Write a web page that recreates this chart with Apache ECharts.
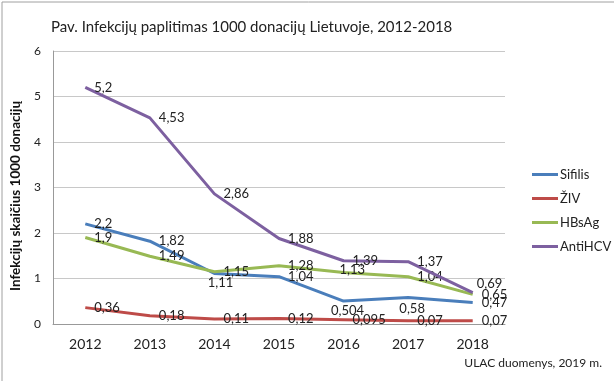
<!DOCTYPE html>
<html>
<head>
<meta charset="utf-8">
<script src="https://cdn.jsdelivr.net/npm/echarts@6/dist/echarts.min.js"></script>
<style>html,body{margin:0;padding:0;background:#fff}#c{width:614px;height:381px}</style>
</head>
<body>
<div id="c"></div>
<script>
const categories = ['2012','2013','2014','2015','2016','2017','2018'];
const sifilis = [2.2, 1.82, 1.11, 1.04, 0.504, 0.58, 0.47];
const ziv = [0.36, 0.18, 0.11, 0.12, 0.095, 0.07, 0.07];
const hbsag = [1.9, 1.49, 1.15, 1.28, 1.13, 1.04, 0.65];
const antihcv = [5.2, 4.53, 2.86, 1.88, 1.39, 1.37, 0.69];
const yTicks = [0, 1, 2, 3, 4, 5, 6];

const FONT = 'Lato';
const fmt = v => String(v).replace('.', ',');

// label placement overrides (series index -> point index -> label opts)
const labelOverrides = {
  0: { 2: { position: 'bottom', offset: [6, -6] }, 4: { position: 'bottom', offset: [4, -6] }, 5: { position: 'bottom', offset: [4, -4] } },
  2: { 4: { offset: [-13, -3] } },
  3: { 6: { offset: [-5, -9] } }
};

function mkSeries(name, vals, color, idx) {
  return {
    name, type: 'line', data: vals.map((v, i) => {
      const o = labelOverrides[idx] && labelOverrides[idx][i];
      return o ? { value: v, label: o } : v;
    }),
    symbol: 'circle', symbolSize: 0, showSymbol: true, smooth: false,
    lineStyle: { color, width: 3 },
    itemStyle: { color },
    label: { show: true, position: 'right', distance: 9, formatter: p => fmt(p.value), color: '#222', fontFamily: FONT, fontSize: 13 },
    z: 2 + idx
  };
}

const chart = echarts.init(document.getElementById('c'));
chart.setOption({
  animation: false,
  textStyle: { fontFamily: FONT },
  title: { text: 'Pav. Infekcijų paplitimas 1000 donacijų Lietuvoje, 2012-2018', left: 46, top: 15,
    textStyle: { fontFamily: FONT, fontWeight: 'normal', fontSize: 15, color: '#222' } },
  grid: { left: 53, right: 109, top: 51, bottom: 57, containLabel: false },
  legend: {
    orient: 'vertical', left: 527, top: 163, itemGap: 11, itemWidth: 26, itemHeight: 14,
    icon: 'path://M0,6 L26,6 L26,9 L0,9 Z',
    textStyle: { fontFamily: FONT, fontSize: 13, color: '#222', padding: [0,0,0,-3] },
    data: ['Sifilis', 'ŽIV', 'HBsAg', 'AntiHCV']
  },
  xAxis: {
    type: 'category', data: categories, boundaryGap: true,
    axisLine: { lineStyle: { color: '#999' } }, axisTick: { show: false },
    axisLabel: { fontFamily: FONT, fontSize: 14, color: '#222', margin: 13 }
  },
  yAxis: {
    type: 'value', min: yTicks[0], max: yTicks[yTicks.length - 1], interval: 1,
    axisLine: { show: true, lineStyle: { color: '#999' } }, axisTick: { show: false },
    splitLine: { lineStyle: { color: '#c8c8c8' } },
    axisLabel: { fontFamily: FONT, fontSize: 12, color: '#222', margin: 12 }
  },
  graphic: [
    { type: 'rect', shape: { x: 2, y: 2, width: 700, height: 500 }, style: { fill: 'none', stroke: '#a0a0a0', lineWidth: 1 }, silent: true },
    { type: 'text', x: 16, y: 291, rotation: Math.PI / 2, silent: true,
      style: { text: 'Infekcijų skaičius 1000 donacijų', fontFamily: FONT, fontWeight: 'bold', fontSize: 13.5, fill: '#111', align: 'left', verticalAlign: 'middle' } },
    { type: 'text', right: 12, top: 357, style: { text: 'ULAC duomenys, 2019 m.', fontFamily: FONT, fontSize: 12, fill: '#222' } }
  ],
  series: [
    mkSeries('Sifilis', sifilis, '#4a7ebb', 0),
    mkSeries('ŽIV', ziv, '#be4b48', 1),
    mkSeries('HBsAg', hbsag, '#98b954', 2),
    mkSeries('AntiHCV', antihcv, '#7d60a0', 3)
  ]
});
</script>
</body>
</html>
